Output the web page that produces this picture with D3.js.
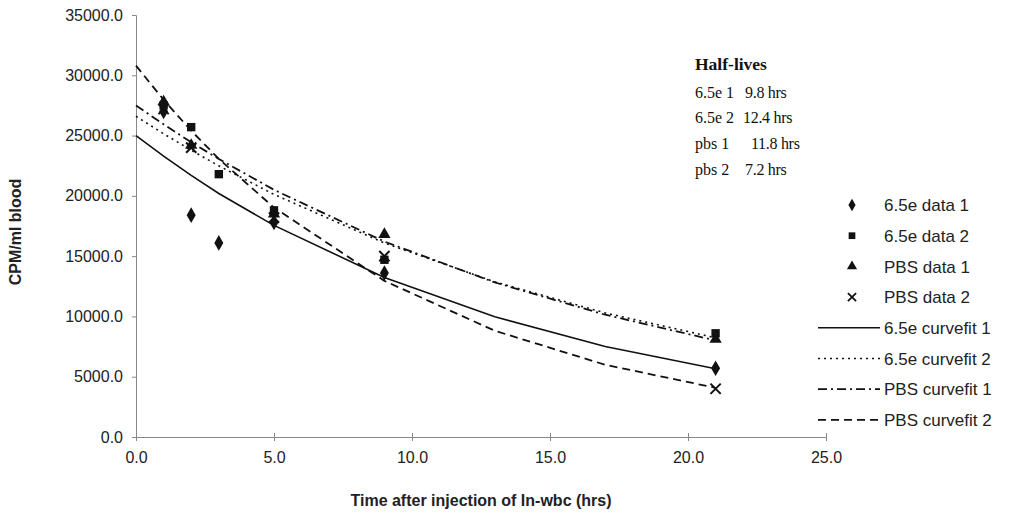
<!DOCTYPE html>
<html><head><meta charset="utf-8">
<script src="https://cdn.jsdelivr.net/npm/d3@7"></script>
<style>body{margin:0;background:#fff}svg{display:block}</style>
</head><body>
<svg id="c" width="1013" height="518"></svg>
<script>
// ---- data ----
const xTicks = [0, 5, 10, 15, 20, 25];
const yTicks = [0, 5000, 10000, 15000, 20000, 25000, 30000, 35000];

const tData1 = [1, 2, 3, 5, 9, 21];
const e65data1 = [27000, 18400, 16100, 17800, 13600, 5700];
const e65data2 = [27500, 25700, 21800, 18800, 14700, 8600];
const tData2 = [1, 2, 5, 9, 21];
const pbsData1 = [27800, 24200, 18500, 16800, 8100];
const pbsData2 = [27200, 24000, 18200, 15000, 4000];

const tFit = [0, 1, 2, 3, 5, 9, 13, 17, 21];
const e65fit1 = [25000, 23300, 21700, 20200, 17550, 13230, 9970, 7510, 5660];
const e65fit2 = [26600, 25150, 23790, 22490, 20120, 16090, 12870, 10290, 8230];
const pbsFit1 = [27500, 25930, 24450, 23060, 20500, 16210, 12820, 10140, 8010];
const pbsFit2 = [30800, 27970, 25400, 23070, 19030, 12950, 8810, 5990, 4080];

const halfNames = ["6.5e 1", "6.5e 2", "pbs 1", "pbs 2"];
const halfValues = ["9.8 hrs", "12.4 hrs", "11.8 hrs", "7.2 hrs"];

const legendNames = ["6.5e data 1", "6.5e data 2", "PBS data 1", "PBS data 2",
  "6.5e curvefit 1", "6.5e curvefit 2", "PBS curvefit 1", "PBS curvefit 2"];

// ---- layout ----
const svg = d3.select("#c");
const x = d3.scaleLinear().domain([0, 25]).range([136, 826]);
const y = d3.scaleLinear().domain([0, 35000]).range([437, 15]);
const sans = "'Liberation Sans', Arial, sans-serif";
const serif = "'Liberation Serif', 'Times New Roman', serif";
const axisCol = "#888";

// axes
const xAxis = svg.append("g").attr("transform", "translate(0,437)")
  .call(d3.axisBottom(x).tickValues(xTicks).tickFormat(d3.format(".1f")).tickSize(4).tickPadding(8));
const yAxis = svg.append("g").attr("transform", "translate(136,0)")
  .call(d3.axisLeft(y).tickValues(yTicks).tickFormat(d3.format(".1f")).tickSize(4).tickPadding(9));
[xAxis, yAxis].forEach(g => {
  g.select(".domain").attr("stroke", axisCol);
  g.selectAll(".tick line").attr("stroke", axisCol);
  g.selectAll("text").attr("font-family", sans).attr("font-size", 16).attr("fill", "#222");
});
xAxis.selectAll(".tick line").attr("y1", -4);
xAxis.selectAll("text").attr("dy", "0.9em");

svg.append("text").attr("x", 481).attr("y", 506).attr("text-anchor", "middle")
  .attr("font-family", sans).attr("font-weight", "bold").attr("font-size", 16).attr("fill", "#222")
  .text("Time after injection of In-wbc (hrs)");
svg.append("text").attr("transform", "translate(21,232) rotate(-90)").attr("text-anchor", "middle")
  .attr("font-family", sans).attr("font-weight", "bold").attr("font-size", 16).attr("fill", "#222")
  .text("CPM/ml blood");

// curves
const fitStyles = [
  {vals: e65fit1, dash: null, w: 1.6},
  {vals: e65fit2, dash: "2,4", w: 1.6},
  {vals: pbsFit1, dash: "9,4,2,4", w: 1.8},
  {vals: pbsFit2, dash: "8,5", w: 1.8}
];
const line = d3.line().x(d => x(d[0])).y(d => y(d[1]));
fitStyles.forEach(s => {
  svg.append("path").datum(tFit.map((t, i) => [t, s.vals[i]]))
    .attr("d", line).attr("fill", "none").attr("stroke", "#111")
    .attr("stroke-width", s.w).attr("stroke-dasharray", s.dash);
});

// markers
const sym = {
  diamond: d3.symbol().type(d3.symbolDiamond).size(70),
  square: d3.symbol().type(d3.symbolSquare).size(70),
  triangle: d3.symbol().type(d3.symbolTriangle).size(65),
  cross: d3.symbol().type(d3.symbolTimes).size(70)
};
function drawMarker(g, kind, cx, cy) {
  const p = g.append("path").attr("d", sym[kind]()).attr("transform", `translate(${cx},${cy})`);
  if (kind === "cross") p.attr("fill", "none").attr("stroke", "#111").attr("stroke-width", 2);
  else p.attr("fill", "#111");
}
const series = [
  {t: tData1, v: e65data1, k: "diamond"},
  {t: tData1, v: e65data2, k: "square"},
  {t: tData2, v: pbsData1, k: "triangle"},
  {t: tData2, v: pbsData2, k: "cross"}
];
series.forEach(s => s.t.forEach((t, i) => drawMarker(svg, s.k, x(t), y(s.v[i]))));

// legend
const lg = svg.append("g");
const rowY = i => 205 + i * 30.7;
const legendSyms = [d3.symbolDiamond, d3.symbolSquare, d3.symbolTriangle, d3.symbolTimes];
legendNames.forEach((name, i) => {
  const yy = rowY(i);
  if (i < 4) {
    const k = series[i].k;
    lg.append("path").attr("d", d3.symbol().type(legendSyms[i]).size(45)())
      .attr("transform", `translate(852,${yy})`)
      .attr("fill", k === "cross" ? "none" : "#111").attr("stroke", k === "cross" ? "#111" : null)
      .attr("stroke-width", k === "cross" ? 1.8 : null);
  } else {
    const s = fitStyles[i - 4];
    lg.append("line").attr("x1", 818).attr("x2", 880).attr("y1", yy).attr("y2", yy)
      .attr("stroke", "#111").attr("stroke-width", s.w).attr("stroke-dasharray", s.dash);
  }
  lg.append("text").attr("x", 884).attr("y", yy).attr("dy", "0.36em")
    .attr("font-family", sans).attr("font-size", 17).attr("fill", "#222").text(name);
});

// half-lives
const hl = svg.append("g").attr("font-family", serif).attr("fill", "#111");
hl.append("text").attr("x", 695).attr("y", 70).attr("font-weight", "bold").attr("font-size", 17.5).text("Half-lives");
halfNames.forEach((n, i) => {
  const yy = 92 + i * 25.7;
  hl.append("text").attr("x", 695).attr("y", yy).attr("dy", "0.35em").attr("font-size", 16).text(n);
  hl.append("text").attr("x", i === 2 ? 751 : (i === 1 ? 743 : 745)).attr("y", yy).attr("dy", "0.35em")
    .attr("font-size", 16).attr("letter-spacing", "-0.3px").text(halfValues[i]);
});
</script>
</body></html>
